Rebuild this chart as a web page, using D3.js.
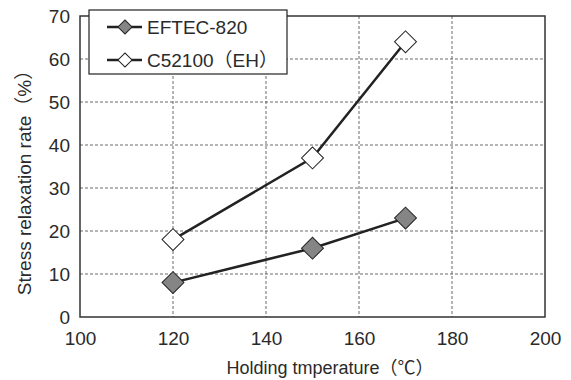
<!DOCTYPE html>
<html>
<head>
<meta charset="utf-8">
<script src="https://cdn.jsdelivr.net/npm/d3@7"></script>
<style>
  body { margin: 0; background: #fff; }
  text { font-family: "Liberation Sans", "Noto Sans CJK JP", sans-serif; fill: #2a2a2a; }
</style>
</head>
<body>
<svg id="chart" width="571" height="380"></svg>
<script>
// data
const temps = [120, 150, 170];
const eftec = [8, 16, 23];
const c52100 = [18, 37, 64];
const seriesNames = ["EFTEC-820", "C52100（EH）"];
const xTicks = [100, 120, 140, 160, 180, 200];
const yTicks = [0, 10, 20, 30, 40, 50, 60, 70];

const m = { left: 80, right: 26, top: 16, bottom: 63 };
const w = 571, h = 380;
const gw = w - m.left - m.right, gh = h - m.top - m.bottom;

const svg = d3.select("#chart");
const g = svg.append("g").attr("transform", `translate(${m.left},${m.top})`);

const xScale = d3.scaleLinear().domain([100, 200]).range([0, gw]);
const yScale = d3.scaleLinear().domain([0, 70]).range([gh, 0]);

// grid lines
g.append("g")
  .selectAll("line.h")
  .data(yTicks.filter(d => d > 0 && d < 70))
  .join("line")
  .attr("x1", 0).attr("x2", gw)
  .attr("y1", d => yScale(d)).attr("y2", d => yScale(d))
  .attr("stroke", "#444").attr("stroke-width", 0.8)
  .attr("stroke-dasharray", "3,2");
g.append("g")
  .selectAll("line.v")
  .data(xTicks.filter(d => d > 100 && d < 200))
  .join("line")
  .attr("y1", 0).attr("y2", gh)
  .attr("x1", d => xScale(d)).attr("x2", d => xScale(d))
  .attr("stroke", "#444").attr("stroke-width", 0.8)
  .attr("stroke-dasharray", "3,2");

// frame
g.append("rect")
  .attr("width", gw).attr("height", gh)
  .attr("fill", "none").attr("stroke", "#333").attr("stroke-width", 1.5);

// axes
const yaxis = d3.axisLeft(yScale).tickValues(yTicks).tickSize(0).tickPadding(10);
const xaxis = d3.axisBottom(xScale).tickValues(xTicks).tickSize(0).tickPadding(15);
const ygrp = g.append("g").call(yaxis);
const xgrp = g.append("g").attr("transform", `translate(0,${gh})`).call(xaxis);
[ygrp, xgrp].forEach(a => {
  a.select(".domain").remove();
  a.selectAll("text").attr("font-size", 19).attr("fill", "#2a2a2a")
    .style("font-family", "'Liberation Sans', sans-serif");
});

// lines
const line = d3.line().x((d, i) => xScale(temps[i])).y(d => yScale(d));
const diamond = d3.symbol().type(d3.symbolSquare).size(240);
const fills = ["#858585", "#ffffff"];
[eftec, c52100].forEach((s, k) => {
  g.append("path").attr("d", line(s))
    .attr("fill", "none").attr("stroke", "#222").attr("stroke-width", 2.5);
  g.append("g").selectAll("path")
    .data(s)
    .join("path")
    .attr("d", diamond)
    .attr("transform", (d, i) => `translate(${xScale(temps[i])},${yScale(d)}) rotate(45)`)
    .attr("fill", fills[k]).attr("stroke", "#222").attr("stroke-width", 1);
});

// legend
const lg = svg.append("g").attr("transform", "translate(89,10)");
lg.append("rect").attr("width", 198).attr("height", 64)
  .attr("fill", "#fff").attr("stroke", "#222").attr("stroke-width", 1.2);
const legSym = d3.symbol().type(d3.symbolSquare).size(100);
seriesNames.forEach((n, k) => {
  const y = 17 + k * 33;
  lg.append("line").attr("x1", 18).attr("x2", 53).attr("y1", y).attr("y2", y)
    .attr("stroke", "#222").attr("stroke-width", 2.5);
  lg.append("path").attr("d", legSym)
    .attr("transform", `translate(36,${y}) rotate(45)`)
    .attr("fill", fills[k]).attr("stroke", "#222").attr("stroke-width", 1);
  lg.append("text").attr("x", 58).attr("y", y).attr("dy", "0.35em")
    .attr("font-size", 19).text(n);
});

// axis titles
svg.append("text")
  .attr("x", 330).attr("y", 368).attr("dy", "0.35em")
  .attr("text-anchor", "middle").attr("font-size", 18)
  .text("Holding tmperature（℃）");
svg.append("text")
  .attr("transform", "translate(24,178) rotate(-90)")
  .attr("dy", "0.35em")
  .attr("text-anchor", "middle").attr("font-size", 19)
  .text("Stress relaxation rate（%）");
</script>
</body>
</html>
